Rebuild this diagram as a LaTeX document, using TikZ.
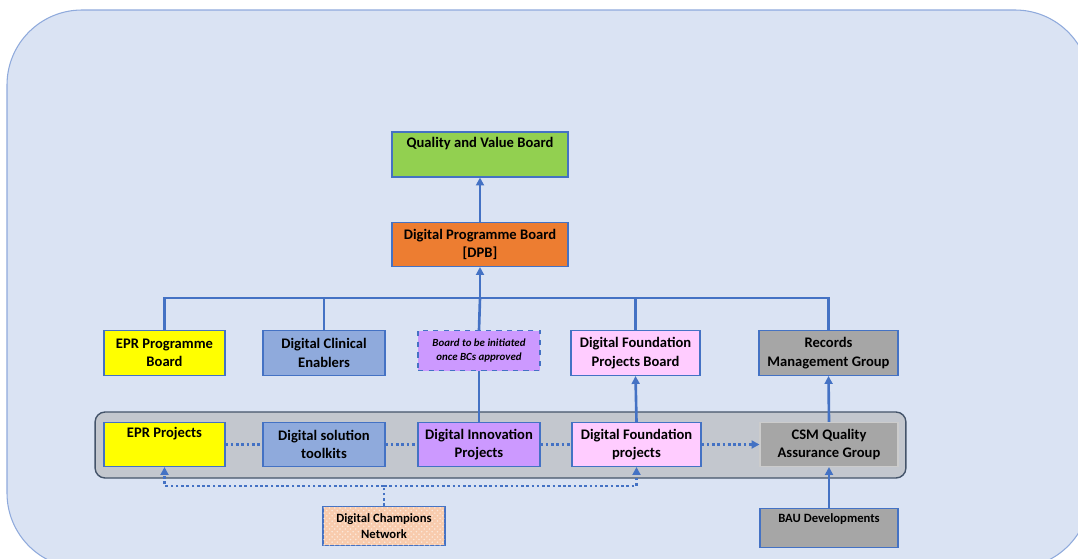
\documentclass[tikz,border=0pt]{standalone}
\usepackage{fontspec}
\setmainfont{Carlito}
\usetikzlibrary{arrows.meta,positioning,calc,patterns,backgrounds}
\definecolor{panelbg}{HTML}{DAE3F3}
\definecolor{panelline}{HTML}{8FAADC}
\definecolor{linkblue}{HTML}{4472C4}
\definecolor{qvgreen}{HTML}{92D050}
\definecolor{dpborange}{HTML}{ED7D31}
\definecolor{eprYellow}{HTML}{FFFF00}
\definecolor{clinblue}{HTML}{8FAADC}
\definecolor{innovpurple}{HTML}{CC99FF}
\definecolor{foundpink}{HTML}{FFCCFF}
\definecolor{recgrey}{HTML}{A6A6A6}
\definecolor{projgrey}{HTML}{C3C7CE}
\definecolor{projline}{HTML}{44546A}
\definecolor{champfill}{HTML}{F8CBAD}

\begin{document}
\begin{tikzpicture}[
    x=0.02cm, y=-0.02cm,
    box/.style={rectangle, draw=linkblue, line width=0.6pt, align=center, inner sep=1pt,
        font=\fontsize{8.3}{10.4}\selectfont\bfseries},
    arrow/.style={draw=linkblue, line width=1.5pt, -{Triangle[length=4.5pt,width=4.5pt]}},
    link/.style={draw=linkblue, line width=1.5pt},
    dotlink/.style={draw=linkblue, line width=1.6pt, dash pattern=on 1.5pt off 1.5pt}
]

% Page and panel
\fill[white] (0,0) rectangle (1078,558);
\useasboundingbox (0,0) rectangle (1078,558);
\draw[fill=panelbg, draw=panelline, line width=0.6pt, rounded corners=1.5cm] (7,10) rectangle (1090,568);

% Project group
\node[draw=projline, fill=projgrey, line width=0.8pt, rounded corners=0.2cm,
    minimum width=16.22cm, minimum height=1.32cm] (projects) at (500.5,445) {};

% Top boards
\node[box, fill=qvgreen, minimum width=3.52cm, minimum height=0.9cm] (qvb) at (480,154.5) {Quality and Value Board\\\strut};
\node[box, fill=dpborange, minimum width=3.52cm, minimum height=0.88cm] (dpb) at (480,244.5) {Digital Programme Board\\{[DPB]}};

% Boards
\node[box, fill=eprYellow, minimum width=2.42cm, minimum height=0.9cm] (eprboard) at (164.5,353) {EPR Programme\\Board};
\node[box, fill=clinblue, minimum width=2.44cm, minimum height=0.9cm] (clinical) at (324,353) {Digital Clinical\\Enablers};
\node[box, fill=innovpurple, dashed, minimum width=2.44cm, minimum height=0.8cm,
    font=\fontsize{6.2}{8}\selectfont\bfseries\itshape] (newboard) at (479,350.5) {Board to be initiated\\once BCs approved};
\node[box, fill=foundpink, minimum width=2.58cm, minimum height=0.9cm] (fboard) at (635.5,353) {Digital Foundation\\Projects Board};
\node[box, fill=recgrey, minimum width=2.78cm, minimum height=0.9cm] (records) at (828.5,353) {Records\\Management Group};

% Projects
\node[box, fill=eprYellow, minimum width=2.42cm, minimum height=0.88cm] (eprproj) at (164.5,444.5) {EPR Projects\\\strut};
\node[box, fill=clinblue, minimum width=2.44cm, minimum height=0.88cm] (toolkit) at (324,444.5) {Digital solution\\toolkits};
\node[box, fill=innovpurple, minimum width=2.44cm, minimum height=0.88cm] (innov) at (479,444.5) {Digital Innovation\\Projects};
\node[box, fill=foundpink, minimum width=2.58cm, minimum height=0.88cm] (fproj) at (636.5,444.5) {Digital Foundation\\projects};
\node[box, fill=recgrey, draw=black!20, minimum width=2.76cm, minimum height=0.88cm] (csm) at (829,444.5) {CSM Quality\\Assurance Group};

% Feeders
\node[box, fill=champfill, postaction={pattern=crosshatch dots, pattern color=white!55!champfill},
    minimum width=2.44cm, minimum height=0.78cm, font=\fontsize{7.2}{9}\selectfont\bfseries] (champions) at (384,526) {Digital Champions\\Network};
\node[box, fill=recgrey, minimum width=2.76cm, minimum height=0.78cm,
    font=\fontsize{7.2}{9}\selectfont\bfseries] (bau) at (829,528) {BAU Developments\\\strut};

\coordinate (bus) at (480,298);
\coordinate (split) at (384,486);

% Reporting lines
\draw[arrow] (dpb) -- (qvb);
\draw[link] (eprboard.north) |- (bus) -| (records.north);
\draw[link] (clinical.north) -- (clinical.north |- bus);
\draw[link] (fboard.north) -- (fboard.north |- bus);
\draw[link] (newboard.north) -- (bus);
\draw[arrow] (bus) -- (dpb.south);
\draw[link] (innov.north) -- (newboard.south);
\draw[arrow] (fproj.north) -- (fboard.south);
\draw[arrow] (csm.north) -- (records.south);
\draw[arrow] (bau.north) -- (csm.south);

% Dotted links
\draw[dotlink] (eprproj) -- (toolkit);
\draw[dotlink] (toolkit) -- (innov);
\draw[dotlink] (innov) -- (fproj);
\draw[dotlink, -{Triangle[length=4.5pt,width=4.5pt]}] (fproj) -- (csm);
\draw[dotlink] (champions.north) -- (split);
\draw[dotlink, -{Triangle[length=4.5pt,width=4.5pt]}] (split) -| (eprproj.south);
\draw[dotlink, -{Triangle[length=4.5pt,width=4.5pt]}] (split) -| (fproj.south);

\end{tikzpicture}
\end{document}
